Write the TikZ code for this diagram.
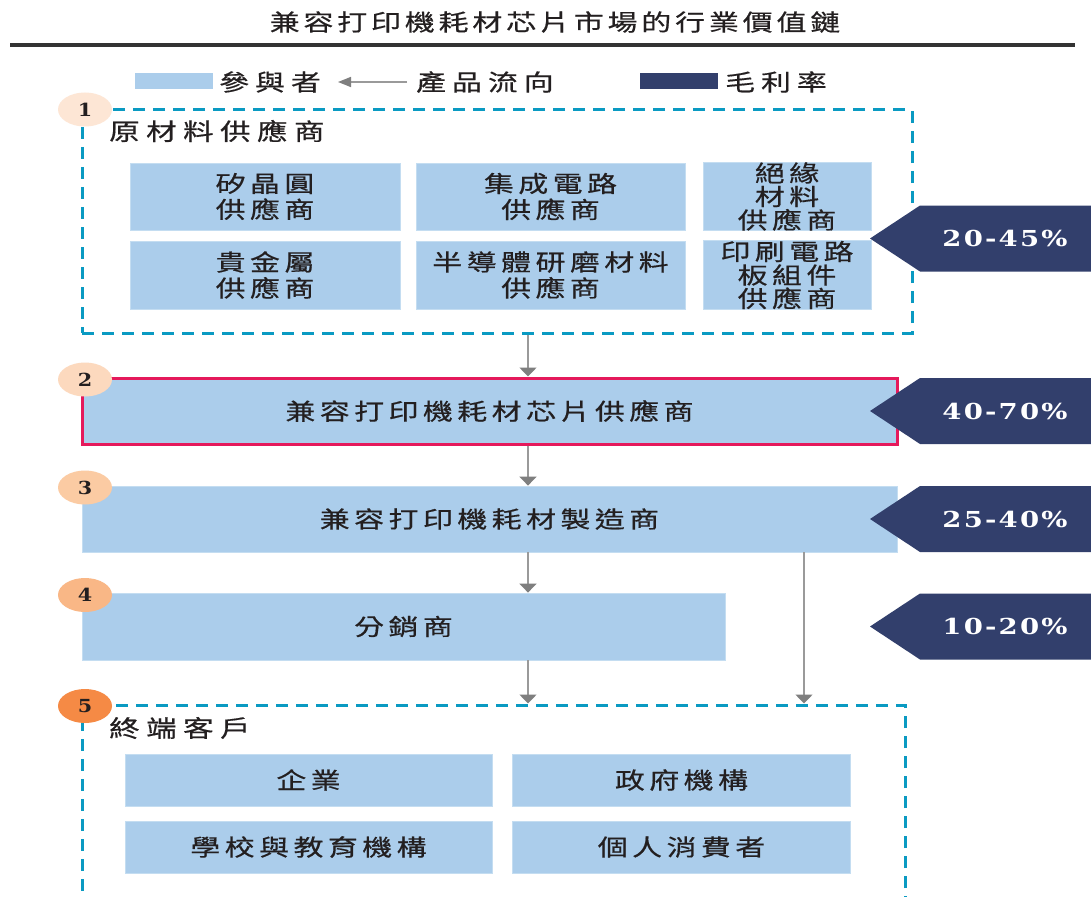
\documentclass[tikz,border=0pt]{standalone}
\usepackage{fontspec}
\usepackage{graphicx}
\setmainfont{Noto Sans CJK TC}[LetterSpace=15, FakeBold=0.5]
\newfontfamily\pctfont{DejaVu Serif}[LetterSpace=8]
\newfontfamily\numfont{DejaVu Serif}
\usetikzlibrary{arrows.meta,shapes.geometric}
\newcommand\wx[1]{\scalebox{1.3}[1]{#1}}
\definecolor{lblue}{HTML}{ABCDEB}
\definecolor{lbedge}{HTML}{C4DDF1}
\definecolor{navy}{HTML}{323F6C}
\definecolor{cyanb}{HTML}{0A9AC2}
\definecolor{crim}{HTML}{E5195B}
\definecolor{flowgray}{HTML}{9A9A9A}
\definecolor{headgray}{HTML}{7F7F7F}
\definecolor{txt}{HTML}{231F20}
\definecolor{cA}{HTML}{FDE6D5}
\definecolor{cB}{HTML}{FCD9BE}
\definecolor{cC}{HTML}{FBCBA3}
\definecolor{cD}{HTML}{F9B786}
\definecolor{cE}{HTML}{F58A45}
\tikzset{
  pbox/.style={draw=lbedge, line width=0.8pt, fill=lblue, inner sep=0pt, align=center, text=txt,
    font=\fontsize{23pt}{26pt}\selectfont},
  dashbox/.style={draw=cyanb, line width=3pt, dash pattern=on 12pt off 8pt},
  flow/.style={draw=flowgray, line width=1.6pt, -{Triangle[width=17pt,length=9pt,color=headgray]}},
  circ/.style={ellipse, minimum width=54pt, minimum height=34pt, inner sep=0pt, text=txt,
    font=\numfont\bfseries\fontsize{18pt}{18pt}\selectfont},
  pct/.style={text=white, font=\pctfont\bfseries\fontsize{22pt}{22pt}\selectfont},
  lbl/.style={text=txt, font=\fontsize{23pt}{26pt}\selectfont, inner sep=0pt}
}
\begin{document}
\begin{tikzpicture}[x=1pt,y=-1pt]
\useasboundingbox (0,0) rectangle (1091,896);
\fill[white] (0,0) rectangle (1091,896);

% title
\node[lbl] (title) at (555,22) {\addfontfeature{LetterSpace=13}\wx{兼容打印機耗材芯片市場的行業價值鏈}};
\draw[line width=3.5pt, draw=black!80] (10,45) -- (1075,45);

% legend
\node[fill=lblue, minimum width=78pt, minimum height=16pt, inner sep=0pt] (legA) at (174,81) {};
\node[lbl, anchor=west] (legAt) at (219,82) {\addfontfeature{LetterSpace=20}\wx{參與者}};
\coordinate (legArrS) at (407,82);
\coordinate (legArrE) at (338,82);
\draw[draw=flowgray, line width=1.5pt, -{Triangle[width=10pt,length=13pt,color=headgray]}] (legArrS) -- (legArrE);
\node[lbl, anchor=west] (legBt) at (416,82) {\addfontfeature{LetterSpace=20}\wx{產品流向}};
\node[fill=navy, minimum width=78pt, minimum height=16pt, inner sep=0pt] (legC) at (679,81) {};
\node[lbl, anchor=west] (legCt) at (725,82) {\addfontfeature{LetterSpace=20}\wx{毛利率}};

% group 1
\node[dashbox, minimum width=830pt, minimum height=223pt, inner sep=0pt] (g1) at (497,221.5) {};
\node[lbl, anchor=west, font=\fontsize{23.5pt}{26pt}\selectfont] (g1t) at (109,131) {\addfontfeature{LetterSpace=21}\wx{原材料供應商}};
\node[pbox, minimum width=270pt, minimum height=67pt] (m1) at (265,196.5) {\wx{矽晶圓}\\\wx{供應商}};
\node[pbox, minimum width=269pt, minimum height=67pt] (m2) at (550.5,196.5) {\wx{集成電路}\\\wx{供應商}};
\node[pbox, minimum width=168pt, minimum height=67pt, font=\fontsize{23pt}{23.5pt}\selectfont] (m3) at (787,196.5) {\wx{絕緣}\\\wx{材料}\\\wx{供應商}};
\node[pbox, minimum width=270pt, minimum height=68pt] (m4) at (265,275) {\wx{貴金屬}\\\wx{供應商}};
\node[pbox, minimum width=269pt, minimum height=68pt] (m5) at (550.5,275) {\wx{半導體研磨材料}\\\wx{供應商}};
\node[pbox, minimum width=168pt, minimum height=68pt, font=\fontsize{23pt}{23.5pt}\selectfont] (m6) at (787,275) {\wx{印刷電路}\\\wx{板組件}\\\wx{供應商}};

% stage boxes
\node[pbox, draw=crim, line width=3pt, minimum width=815pt, minimum height=66pt] (b2) at (489.5,411) {\wx{兼容打印機耗材芯片供應商}};
\node[pbox, minimum width=815pt, minimum height=66pt] (b3) at (489.5,519) {\wx{兼容打印機耗材製造商}};
\node[pbox, minimum width=643pt, minimum height=67pt] (b4) at (403.5,626.5) {\wx{分銷商}};

% group 5
\node[dashbox, minimum width=823pt, minimum height=200pt, inner sep=0pt] (g5) at (493.5,805) {};
\node[lbl, anchor=west, font=\fontsize{23.5pt}{26pt}\selectfont] (g5t) at (109,728) {\addfontfeature{LetterSpace=21}\wx{終端客戶}};
\node[pbox, minimum width=367pt, minimum height=52pt] (e1) at (308.5,780) {\wx{企業}};
\node[pbox, minimum width=338pt, minimum height=52pt] (e2) at (681.5,780) {\wx{政府機構}};
\node[pbox, minimum width=367pt, minimum height=52pt] (e3) at (308.5,847) {\wx{學校與教育機構}};
\node[pbox, minimum width=338pt, minimum height=52pt] (e4) at (681.5,847) {\wx{個人消費者}};

% connectors
\coordinate (cx) at (528,0);
\coordinate (cy) at (804,0);
\draw[flow] (g1.south -| cx) -- (b2.north -| cx);
\draw[flow] (b2.south -| cx) -- (b3.north -| cx);
\draw[flow] (b3.south -| cx) -- (b4.north -| cx);
\draw[flow] (b4.south -| cx) -- (g5.north -| cx);
\draw[flow] (b3.south -| cy) -- (g5.north -| cy);

% number circles
\node[circ, fill=cA] (n1) at (85,109.5) {\scalebox{1.15}[1]{1}};
\node[circ, fill=cB] (n2) at (85,379.5) {\scalebox{1.15}[1]{2}};
\node[circ, fill=cC] (n3) at (85,487.5) {\scalebox{1.15}[1]{3}};
\node[circ, fill=cD] (n4) at (85,595) {\scalebox{1.15}[1]{4}};
\node[circ, fill=cE] (n5) at (85,706) {\scalebox{1.15}[1]{5}};

% margin arrows
\foreach \yc/\lab/\nm in {238.5/20-45\%/p1, 411/40-70\%/p2, 519/25-40\%/p3, 626.5/10-20\%/p4}{
  \fill[navy] (870,\yc) -- (920,\yc-33) -- (1095,\yc-33) -- (1095,\yc+33) -- (920,\yc+33) -- cycle;
  \node[pct] (\nm) at (1005,\yc) {\scalebox{1.25}[1]{\lab}};
}
\end{tikzpicture}
\end{document}
